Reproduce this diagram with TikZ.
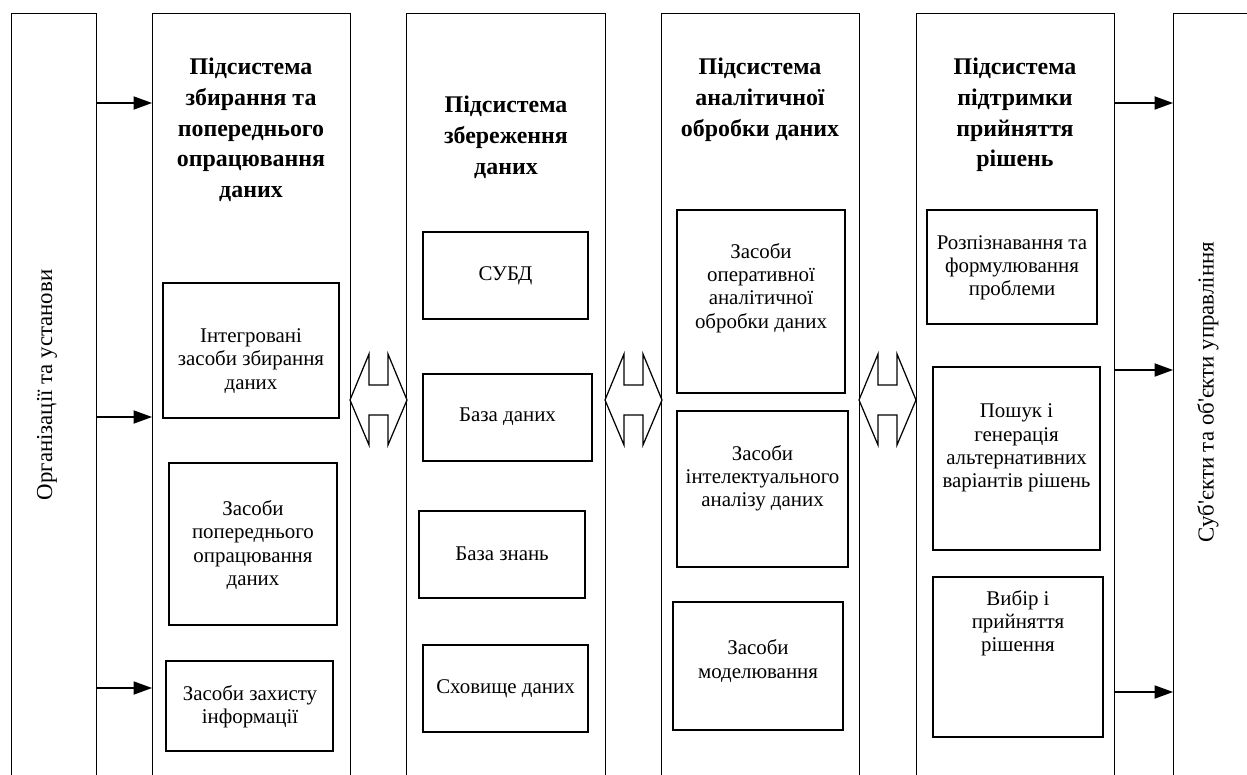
\documentclass[tikz,border=0pt]{standalone}
\usepackage{fontspec}
\setmainfont{Liberation Serif}
\usetikzlibrary{arrows.meta}

\tikzset{
	col/.style={draw, anchor=north west, minimum height=15.8cm, inner sep=0pt},
	head/.style={align=center, inner sep=0pt, anchor=north, font=\bfseries\fontsize{13.6}{17.6}\selectfont},
	txt/.style={align=center, inner sep=0pt, font=\fontsize{11.9}{13.2}\selectfont},
	side/.style={rotate=90, inner sep=0pt, font=\fontsize{13}{15}\selectfont},
	arr/.style={-{Triangle[length=10.5pt,width=7.5pt]}}
}

\begin{document}
\begin{tikzpicture}[x=0.02cm, y=-0.02cm, line width=0.7pt]
		\useasboundingbox (0,0) rectangle (1247,774);
		\clip (0,0) rectangle (1247,774);

		% columns
		\node[col, minimum width=1.7cm] (org) at (11,13) {};
		\node[col, minimum width=3.96cm] (sub1) at (152,13) {};
		\node[col, minimum width=3.98cm] (sub2) at (406,13) {};
		\node[col, minimum width=3.96cm] (sub3) at (661,13) {};
		\node[col, minimum width=3.96cm] (sub4) at (916,13) {};
		\node[col, minimum width=2cm] (ctrl) at (1173,13) {};

		\node[side] (orgtxt) at (47,385) {Організації та установи};
		\node[side] (ctrltxt) at (1208,392) {Суб\textquotesingle єкти та об\textquotesingle єкти управління};

		% headers
		\node[head] (h1) at (251,57) {Підсистема\\збирання та\\попереднього\\опрацювання\\даних};
		\node[head] (h2) at (506,95) {Підсистема\\збереження\\даних};
		\node[head] (h3) at (760,57) {Підсистема\\аналітичної\\обробки даних};
		\node[head] (h4) at (1015,57) {Підсистема\\підтримки\\прийняття\\рішень};

		% column 1
		\draw (163,283) rectangle (339,418);
		\draw[line width=1pt] (169,463) rectangle (337,625);
		\draw[line width=1pt] (166,661) rectangle (333,751);
		\node[txt] (integr) at (251,361) {Інтегровані\\засоби збирання\\даних};
		\node[txt] (prep) at (253,545) {Засоби\\попереднього\\опрацювання\\даних};
		\node[txt] (prot) at (250,707) {Засоби захисту\\інформації};

		% column 2
		\draw (423,232) rectangle (588,319);
		\draw (423,374) rectangle (592,461);
		\draw (419,511) rectangle (585,598);
		\draw (423,645) rectangle (588,732);
		\node[txt] (dbms) at (505.5,276) {СУБД};
		\node[txt] (db) at (507.5,417) {База даних};
		\node[txt] (kb) at (502,554) {База знань};
		\node[txt] (dwh) at (505.5,689) {Сховище даних};

		% column 3
		\draw (677,210) rectangle (845,393);
		\draw (677,411) rectangle (848,567);
		\draw (673,602) rectangle (843,730);
		\node[txt] (olap) at (761,288) {Засоби\\оперативної\\аналітичної\\обробки даних};
		\node[txt] (mining) at (762.5,478) {Засоби\\інтелектуального\\аналізу даних};
		\node[txt] (model) at (758,661) {Засоби\\моделювання};

		% column 4
		\draw (927,210) rectangle (1097,324);
		\draw (933,367) rectangle (1100,550);
		\draw (933,577) rectangle (1103,737);
		\node[txt] (recog) at (1012,268) {Розпізнавання та\\формулювання\\проблеми};
		\node[txt] (search) at (1016.5,448) {Пошук і\\генерація\\альтернативних\\варіантів рішень};
		\node[txt] (choice) at (1018,623) {Вибір і\\прийняття\\рішення};

		% double arrows
		\draw (350,400) -- ++(19,-46) -- ++(0,31) -- ++(19,0) -- ++(0,-31) -- ++(19,46) -- ++(-19,45) -- ++(0,-30) -- ++(-19,0) -- ++(0,30) -- cycle;
		\draw (605,400) -- ++(19,-46) -- ++(0,31) -- ++(19,0) -- ++(0,-31) -- ++(19,46) -- ++(-19,45) -- ++(0,-30) -- ++(-19,0) -- ++(0,30) -- cycle;
		\draw (859,400) -- ++(19,-46) -- ++(0,31) -- ++(19,0) -- ++(0,-31) -- ++(19,46) -- ++(-19,45) -- ++(0,-30) -- ++(-19,0) -- ++(0,30) -- cycle;

		% input and output arrows
		\coordinate (in1) at (0,103);
		\coordinate (in2) at (0,417);
		\coordinate (in3) at (0,688);
		\coordinate (out1) at (0,103);
		\coordinate (out2) at (0,370);
		\coordinate (out3) at (0,692);
		\draw[arr] (org.east |- in1) -- (sub1.west |- in1);
		\draw[arr] (org.east |- in2) -- (sub1.west |- in2);
		\draw[arr] (org.east |- in3) -- (sub1.west |- in3);
		\draw[arr] (sub4.east |- out1) -- (ctrl.west |- out1);
		\draw[arr] (sub4.east |- out2) -- (ctrl.west |- out2);
		\draw[arr] (sub4.east |- out3) -- (ctrl.west |- out3);
	\end{tikzpicture}
\end{document}
